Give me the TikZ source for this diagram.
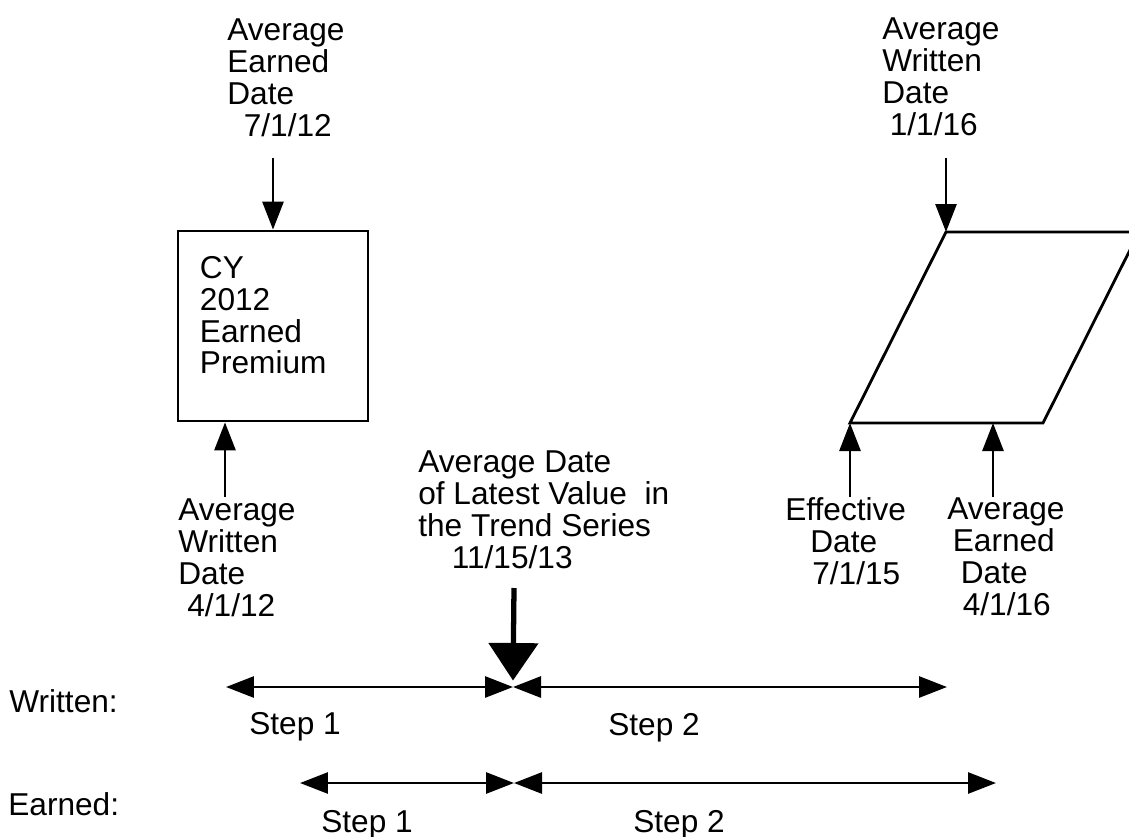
\documentclass[tikz,border=0pt]{standalone}
\usepackage{fontspec}
\setmainfont{Liberation Sans}
\usetikzlibrary{arrows.meta,calc}

\begin{document}
\begin{tikzpicture}[x=0.02cm, y=-0.02cm,
    lbl/.style={inner sep=0pt, anchor=north west, align=left,
        font=\fontsize{18pt}{18.2pt}\selectfont},
    premium/.style={rectangle, draw, line width=1.6pt, minimum width=3.8cm,
        minimum height=3.8cm, inner sep=0pt},
    ptr/.style={-{Triangle[length=0.56cm, width=0.42cm]}, line width=1.6pt},
    span/.style={{Triangle[length=0.56cm, width=0.42cm]}-{Triangle[length=0.56cm, width=0.42cm]},
        line width=1.6pt},
    bigptr/.style={-{Triangle[length=0.75cm, width=0.98cm]}, line width=3pt}
]
\useasboundingbox (0,0) rectangle (1129,836);

% calendar year box
\node[premium] (eprem) at (273,326) {};
\node[lbl] (eptext) at ($(eprem.north west)+(23,26)$) {CY\\2012\\Earned\\Premium};

% policy year parallelogram
\coordinate (pa) at (946,232);
\coordinate (pb) at (850,423);
\coordinate (pc) at (1043,423);
\coordinate (pd) at (1139,232);
\coordinate (pe) at (993,423);
\draw[line width=1.6pt] (pa) -- (pb) -- (pc) -- (pd) -- cycle;

% date labels
\node[lbl] (aed) at (227,18) {Average\\Earned\\Date\\\hspace*{0.33cm}7/1/12};
\node[lbl] (awd) at (178,498) {Average\\Written\\Date\\\hspace*{0.18cm}4/1/12};
\node[lbl] (trend) at (418,450) {Average Date\\of Latest Value~ in\\the Trend Series\\\hspace*{0.67cm}11/15/13};
\node[lbl] (awr) at (882,17) {Average\\Written\\Date\\\hspace*{0.15cm}1/1/16};
\node[lbl] (eff) at (785,497) {Effective\\\hspace*{0.5cm}Date\\\hspace*{0.54cm}7/1/15};
\node[lbl] (aer) at (947,497) {Average\\\hspace*{0.11cm}Earned\\\hspace*{0.27cm}Date\\\hspace*{0.31cm}4/1/16};

\coordinate (aedtail) at (273,158);
\coordinate (awdtail) at (225,497);
\coordinate (awrtail) at (946,158);
\coordinate (efftail) at (850,497);
\coordinate (aertail) at (993,497);
\draw[ptr] (aedtail) -- (eprem.north);
\draw[ptr] (awdtail) -- (awdtail |- eprem.south);
\draw[ptr] (awrtail) -- (pa);
\draw[ptr] (efftail) -- (pb);
\draw[ptr] (aertail) -- (pe);

% step lines
\node[lbl] (wlab) at (9,689) {Written:};
\node[lbl] (elab) at (8,792) {Earned:};
\coordinate (w0) at (226,687);
\coordinate (wm) at (513,687);
\coordinate (w1) at (947,687);
\coordinate (e0) at (300,783);
\coordinate (em) at (514,783);
\coordinate (e1) at (996,783);
\draw[span] (w0) -- (wm);
\draw[span] (wm) -- (w1);
\draw[span] (e0) -- (em);
\draw[span] (em) -- (e1);
\node[lbl] (ws1) at (249,712) {Step 1};
\node[lbl] (ws2) at (608,713) {Step 2};
\node[lbl] (es1) at (321,810) {Step 1};
\node[lbl] (es2) at (633,810) {Step 2};

\coordinate (ttail) at (514,588);
\draw[bigptr] (ttail) -- ([yshift=0.13cm]wm);

\end{tikzpicture}
\end{document}
